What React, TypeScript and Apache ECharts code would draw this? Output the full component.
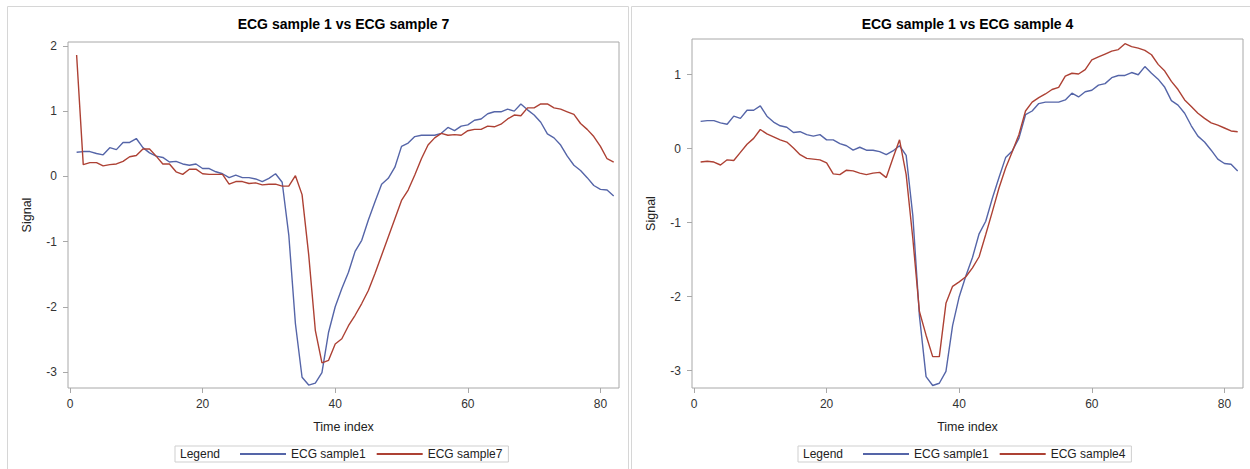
import React, { useEffect, useRef } from "react";
import * as echarts from "echarts";

// ---- Data ----
const ecgSample1: number[] = [
  0.37, 0.38, 0.38, 0.35, 0.33, 0.44, 0.41, 0.52, 0.52, 0.58,
  0.44, 0.36, 0.31, 0.29, 0.22, 0.23, 0.19, 0.17, 0.19, 0.12,
  0.12, 0.07, 0.04, -0.02, 0.02, -0.02, -0.02, -0.04, -0.08, -0.03,
  0.04, -0.09, -0.9, -2.26, -3.08, -3.2, -3.17, -3.01, -2.39, -2.0,
  -1.72, -1.47, -1.15, -0.98, -0.67, -0.39, -0.12, -0.03, 0.14, 0.46,
  0.51, 0.61, 0.63, 0.63, 0.63, 0.66, 0.75, 0.7, 0.77, 0.79,
  0.86, 0.88, 0.96, 0.99, 0.99, 1.03, 1.0, 1.11, 1.02, 0.94,
  0.83, 0.65, 0.59, 0.48, 0.31, 0.17, 0.09, -0.02, -0.14, -0.2,
  -0.21, -0.3,
];

const ecgSample7: number[] = [
  1.86, 0.18, 0.21, 0.21, 0.16, 0.18, 0.19, 0.23, 0.3, 0.32,
  0.42, 0.42, 0.31, 0.19, 0.19, 0.07, 0.03, 0.11, 0.11, 0.04,
  0.03, 0.03, 0.03, -0.12, -0.08, -0.08, -0.11, -0.1, -0.13, -0.12,
  -0.12, -0.15, -0.15, 0.01, -0.28, -1.2, -2.36, -2.86, -2.82, -2.57,
  -2.49, -2.29, -2.13, -1.95, -1.75, -1.49, -1.21, -0.93, -0.65, -0.37,
  -0.21, 0.02, 0.27, 0.48, 0.59, 0.66, 0.63, 0.64, 0.63, 0.7,
  0.72, 0.72, 0.77, 0.76, 0.8, 0.88, 0.94, 0.93, 1.05, 1.05,
  1.11, 1.11, 1.05, 1.03, 0.99, 0.95, 0.81, 0.72, 0.61, 0.46,
  0.27, 0.22,
];

const ecgSample4: number[] = [
  -0.18, -0.17, -0.18, -0.22, -0.15, -0.16, -0.05, 0.06, 0.14, 0.26,
  0.2, 0.16, 0.12, 0.09, 0.01, -0.08, -0.13, -0.14, -0.15, -0.19,
  -0.34, -0.35, -0.29, -0.3, -0.33, -0.35, -0.33, -0.32, -0.39, -0.13,
  0.12, -0.35, -1.21, -2.2, -2.52, -2.81, -2.81, -2.09, -1.86, -1.8,
  -1.73, -1.61, -1.46, -1.16, -0.85, -0.53, -0.26, -0.04, 0.19, 0.51,
  0.63, 0.69, 0.74, 0.8, 0.83, 0.98, 1.02, 1.01, 1.07, 1.2,
  1.24, 1.28, 1.32, 1.34, 1.42, 1.38, 1.36, 1.33, 1.27, 1.14,
  1.05, 0.91, 0.8, 0.66, 0.57, 0.48, 0.41, 0.35, 0.32, 0.28,
  0.24, 0.23,
];

const timeIndex: number[] = ecgSample1.map((_, i) => i + 1);

const xTicks: number[] = [0, 20, 40, 60, 80];
const yTicksLeft: number[] = [-3, -2, -1, 0, 1, 2];
const yTicksRight: number[] = [-3, -2, -1, 0, 1];

const titles: string[] = ["ECG sample 1 vs ECG sample 7", "ECG sample 1 vs ECG sample 4"];
const seriesNames: string[] = ["ECG sample1", "ECG sample7", "ECG sample4"];

const BLUE = "#5565a8";
const RED = "#ad4134";
const FONT = "'Liberation Sans', Arial, Helvetica, sans-serif";
const GRAY = "#a8a8a8";

const pairs = (vals: number[]) => vals.map((v, i) => [timeIndex[i], v]);

export default function App() {
  const ref = useRef<HTMLDivElement>(null);

  useEffect(() => {
    document.body.style.margin = "0";
    if (!ref.current) return;
    const chart = echarts.init(ref.current, null, { renderer: "svg" });

    const makeX = (gridIndex: number) => ({
      type: "value",
      gridIndex,
      min: -0.3,
      max: 82.8,
      axisLine: { show: false, onZero: false },
      axisTick: { show: true, length: 5, lineStyle: { color: GRAY }, customValues: xTicks },
      axisLabel: { customValues: xTicks, color: "#333", fontSize: 12, fontFamily: FONT, margin: 10 },
      splitLine: { show: false },
      name: "Time index",
      nameLocation: "middle",
      nameGap: 32,
      nameTextStyle: { color: "#222", fontSize: 12.5, fontFamily: FONT },
    });

    const makeY = (gridIndex: number, min: number, max: number, ticks: number[]) => ({
      type: "value",
      gridIndex,
      min,
      max,
      axisLine: { show: false, onZero: false },
      axisTick: { show: true, length: 5, lineStyle: { color: GRAY }, customValues: ticks },
      axisLabel: { customValues: ticks, color: "#333", fontSize: 12, fontFamily: FONT, margin: 11 },
      splitLine: { show: false },
      name: "Signal",
      nameLocation: "middle",
      nameGap: 35,
      nameTextStyle: { color: "#222", fontSize: 12.5, fontFamily: FONT },
    });

    const legendCommon = {
      top: 446,
      orient: "horizontal",
      icon: "rect",
      itemWidth: 46,
      itemHeight: 2,
      itemGap: 11,
      padding: [2, 6, 2, 65],
      borderColor: "#cfcfcf",
      borderWidth: 1,
      selectedMode: false,
      textStyle: { color: "#222", fontSize: 12, fontFamily: FONT },
    };

    const line = (name: string, vals: number[], color: string, idx: number) => ({
      type: "line",
      name,
      xAxisIndex: idx,
      yAxisIndex: idx,
      data: pairs(vals),
      showSymbol: false,
      symbol: "none",
      lineStyle: { width: 1.4, color },
      itemStyle: { color },
    });

    chart.setOption({
      animation: false,
      backgroundColor: "#ffffff",
      title: [
        {
          text: titles[0],
          left: 343.5,
          top: 17,
          textAlign: "center",
          padding: 0,
          textStyle: { fontSize: 14, fontWeight: "bold", color: "#000", fontFamily: FONT },
        },
        {
          text: titles[1],
          left: 967.5,
          top: 17,
          textAlign: "center",
          padding: 0,
          textStyle: { fontSize: 14, fontWeight: "bold", color: "#000", fontFamily: FONT },
        },
      ],
      grid: [
        { left: 68, top: 42, width: 551, height: 346, show: true, borderColor: GRAY, borderWidth: 1 },
        { left: 692, top: 39, width: 551, height: 349, show: true, borderColor: GRAY, borderWidth: 1 },
      ],
      xAxis: [makeX(0), makeX(1)],
      yAxis: [makeY(0, -3.245, 2.06, yTicksLeft), makeY(1, -3.234, 1.483, yTicksRight)],
      legend: [
        { ...legendCommon, left: 175, data: [seriesNames[0], seriesNames[1]] },
        { ...legendCommon, left: 798, data: [seriesNames[0], seriesNames[2]] },
      ],
      graphic: [
        {
          type: "rect",
          shape: { x: 7.5, y: 6.5, width: 621, height: 480 },
          style: { fill: "none", stroke: "#d6d6d6", lineWidth: 1 },
          silent: true,
          z: -10,
        },
        {
          type: "rect",
          shape: { x: 631.5, y: 6.5, width: 640, height: 480 },
          style: { fill: "none", stroke: "#d6d6d6", lineWidth: 1 },
          silent: true,
          z: -10,
        },
        {
          type: "text",
          x: 180,
          y: 454,
          style: { text: "Legend", fill: "#222", font: `12px ${FONT}`, verticalAlign: "middle", align: "left" },
          silent: true,
        },
        {
          type: "text",
          x: 803,
          y: 454,
          style: { text: "Legend", fill: "#222", font: `12px ${FONT}`, verticalAlign: "middle", align: "left" },
          silent: true,
        },
      ],
      series: [
        line(seriesNames[0], ecgSample1, BLUE, 0),
        line(seriesNames[1], ecgSample7, RED, 0),
        line(seriesNames[0], ecgSample1, BLUE, 1),
        line(seriesNames[2], ecgSample4, RED, 1),
      ],
    });

    return () => chart.dispose();
  }, []);

  return <div ref={ref} style={{ width: 1250, height: 469 }} />;
}
